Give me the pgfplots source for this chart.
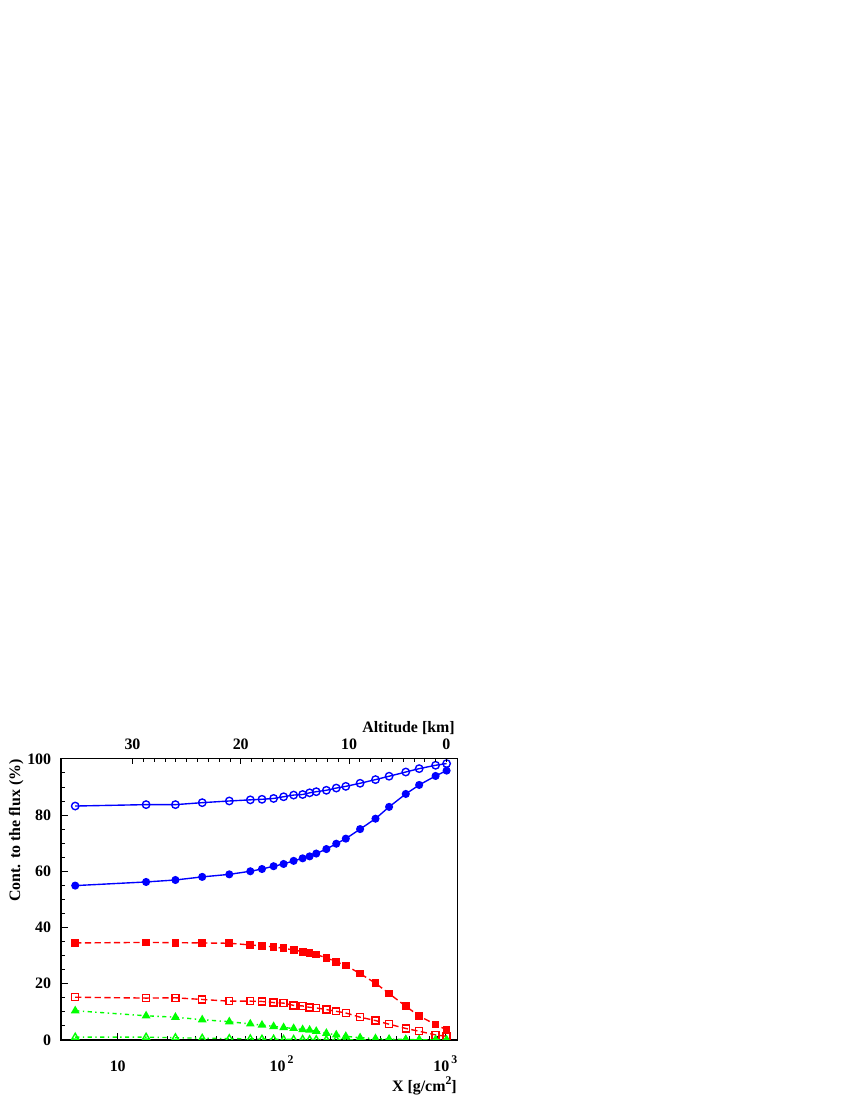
\documentclass[border=0pt]{standalone}
\usepackage{fontspec}
\setmainfont{Liberation Serif}
\usepackage{pgfplots}
\pgfplotsset{compat=1.18}

\definecolor{rblue}{rgb}{0,0,1}
\definecolor{rred}{rgb}{1,0,0}
\definecolor{rgreen}{rgb}{0,1,0}

% X [g/cm2], contributions in %
\pgfplotstableread{
X     circO circF sqF  sqO  triF triO
5.5   83.2  54.9  34.5 15.2 10.4 1.0
14.9  83.7  56.2  34.7 14.9 8.6  1.0
22.5  83.7  56.9  34.6 15.0 8.1  0.8
32.8  84.4  58.0  34.5 14.4 7.2  0.6
48    85.0  58.9  34.4 13.8 6.5  0.5
64.5  85.4  60.0  33.8 13.8 5.7  0.4
76    85.6  60.8  33.5 13.7 5.3  0.3
89.5  85.9  61.8  33.1 13.3 4.8  0.3
103   86.5  62.6  32.6 13.1 4.4  0.2
118.6 87.1  63.7  32.0 12.3 4.1  0.2
134.6 87.3  64.6  31.4 12.1 3.7  0.2
148.5 87.9  65.3  30.9 11.6 3.5  0.1
163   88.3  66.3  30.4 11.4 3.1  0.1
188   88.8  67.9  29.2 10.8 2.4  0.1
216   89.6  69.8  27.8 10.2 1.8  0.1
247   90.2  71.6  26.5 9.6  1.3  0.1
302   91.3  75.0  23.6 8.1  0.8  0.05
375   92.6  78.7  20.2 6.9  0.5  0.03
454   93.8  82.9  16.5 5.6  0.3  0.02
574   95.3  87.5  12.0 4.1  0.2  0.01
693   96.5  90.7  8.5  3.1  0.1  0.01
873   97.7  93.9  5.5  1.8  0.05 0.0
1019  98.3  95.8  3.6  1.3  0.03 0.0
}\flux

\newcommand{\lbl}{\fontsize{11.5}{13}\selectfont\bfseries}

\begin{document}
\begin{tikzpicture}[x=0.01in,y=0.01in]
\path (0,0) rectangle (850,1100);

\begin{axis}[
  at={(0.61in,0.60in)}, anchor=south west,
  scale only axis, width=3.96in, height=2.81in,
  xmode=log, xmin=4.505, xmax=1184,
  ymin=0, ymax=100,
  clip marker paths=true,
  axis line style={line width=0.8pt},
  tick style={black, line width=0.6pt},
  major tick length=0.07in, minor tick length=0.035in,
  tick align=inside,
  xtick pos=bottom, ytick pos=left,
  xtick={10,100,1000},
  xticklabels={10, 10\kern1.5pt\raisebox{6pt}{\fontsize{8.5}{9}\selectfont 2}, 10\kern1.5pt\raisebox{6pt}{\fontsize{8.5}{9}\selectfont 3}},
  xticklabel style={font=\lbl, anchor=base, yshift=-0.32in},
  ytick={0,20,40,60,80,100}, minor y tick num=3,
  yticklabel style={font=\lbl, xshift=-0.05in},
  /pgf/number format/assume math mode=true,
  every axis plot/.append style={line width=1pt},
]
\addplot[rblue, mark=o, mark size=2.7pt, mark options={solid}] table[x=X,y=circO]{\flux};
\addplot[rblue, mark=*, mark size=2.4pt, mark options={solid}] table[x=X,y=circF]{\flux};
\addplot[rred, dash pattern=on 4.5pt off 2.5pt, mark=square*, mark size=2.3pt, mark options={solid}] table[x=X,y=sqF]{\flux};
\addplot[rred, dash pattern=on 4.5pt off 2.5pt, mark=square, mark size=2.5pt, mark options={solid}] table[x=X,y=sqO]{\flux};
\addplot[rgreen, dash pattern=on 3pt off 2.5pt on 1pt off 2.5pt, mark=triangle*, mark size=2.7pt, mark options={solid}] table[x=X,y=triF]{\flux};
\addplot[rgreen, dash pattern=on 3pt off 2.5pt on 1pt off 2.5pt, mark=triangle, mark size=2.8pt, mark options={solid}] table[x=X,y=triO]{\flux};
\end{axis}

% altitude axis on top
\begin{axis}[
  at={(0.61in,0.60in)}, anchor=south west,
  scale only axis, width=3.96in, height=2.81in,
  x dir=reverse, xmin=0, xmax=36.6,
  ymin=0, ymax=1,
  axis line style={draw=none},
  tick style={black, line width=0.6pt},
  major tick length=0.055in, minor tick length=0.03in,
  tick align=inside,
  xtick pos=top, xticklabel pos=top,
  xtick={0,10,20,30}, minor x tick num=9,
  xticklabels={\makebox[0pt]{0\hspace{0.22in}},10,20,30},
  xticklabel style={font=\lbl, anchor=base, yshift=0.09in},
  ytick=\empty,
  /pgf/number format/assume math mode=true,
]
\end{axis}

\node[font=\lbl, anchor=base east, inner sep=0pt] at (455,367) {Altitude [km]};
\node[font=\lbl, anchor=base east, inner sep=0pt] at (457,9) {X [g/cm\raisebox{5pt}{\fontsize{8.5}{9}\selectfont 2}]};
\node[font=\lbl, anchor=base east, inner sep=0pt, rotate=90] at (20,341) {Cont. to the flux (\%)};
\end{tikzpicture}
\end{document}
